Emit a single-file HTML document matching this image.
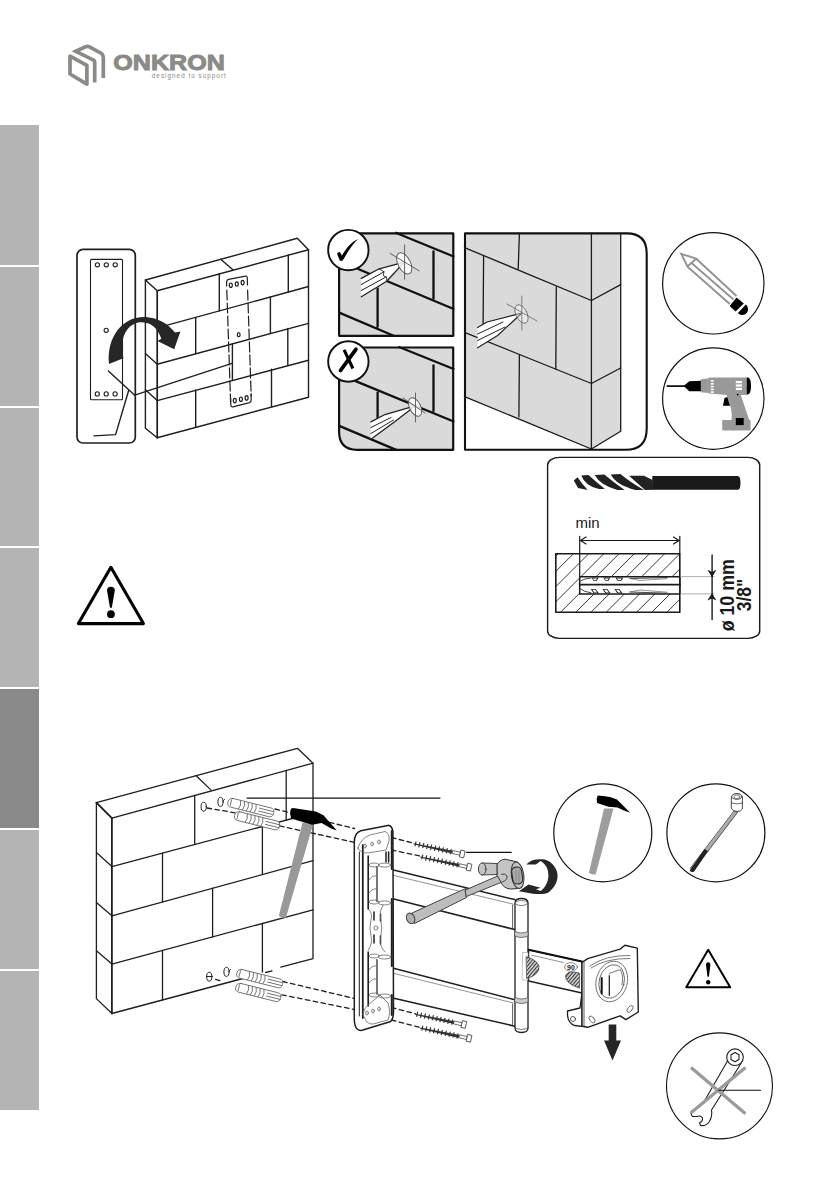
<!DOCTYPE html>
<html><head><meta charset="utf-8">
<style>
html,body{margin:0;padding:0;background:#fff;}
body{width:839px;height:1191px;overflow:hidden;position:relative;font-family:"Liberation Sans",sans-serif;}
svg{position:absolute;left:0;top:0;}
</style></head>
<body>
<svg width="839" height="1191" viewBox="0 0 839 1191">
<!-- side tabs -->
<g fill="#b3b4b3">
<rect x="0" y="125" width="39" height="140"/>
<rect x="0" y="267" width="39" height="139"/>
<rect x="0" y="408" width="39" height="138"/>
<rect x="0" y="548" width="39" height="139"/>
<rect x="0" y="689" width="39" height="139" fill="#898989"/>
<rect x="0" y="830" width="39" height="139"/>
<rect x="0" y="971" width="39" height="139"/>
</g>
<!-- logo -->
<g fill="none" stroke="#8a8a87" stroke-width="3.7" stroke-linejoin="round">
<path d="M70 56.1 L86.9 65.3 L86.9 84.1 L70 74 Z"/>
<path d="M94.7 82.5 L94.7 62 Q94.7 60.5 93 59.8 L75.8 51.3 L85.5 46.8 Q87.5 45.8 89.5 46.8 L101.5 53.5 Q103.3 54.8 103.3 57.5 L103.3 78" stroke-linejoin="miter" stroke-miterlimit="10"/>
</g>
<text x="113.3" y="69.8" font-family="Liberation Sans" font-weight="bold" font-size="21.5" fill="#8a8a87" stroke="#8a8a87" stroke-width="0.9" textLength="111.5" lengthAdjust="spacingAndGlyphs">ONKRON</text>
<text x="151.8" y="78.3" font-family="Liberation Sans" font-size="6.3" fill="#8a8a87" textLength="74" lengthAdjust="spacing">designed to support</text>

<g id="top" fill="none" stroke="#1f1f1f" stroke-linecap="round" stroke-linejoin="round">
<!-- template card -->
<rect x="77" y="249.3" width="58.3" height="193.7" rx="6" stroke-width="1.7"/>
<rect x="90.5" y="259.4" width="32" height="140.4" rx="1" stroke-width="1.1"/>
<g stroke-width="1.1">
<circle cx="97.4" cy="264.8" r="2.1"/><circle cx="106.3" cy="264.8" r="2.1"/><circle cx="115.2" cy="264.8" r="2.1"/>
<circle cx="97.3" cy="393.9" r="2.1"/><circle cx="106.2" cy="393.9" r="2.1"/><circle cx="115.1" cy="393.9" r="2.1"/>
<circle cx="106.2" cy="330.3" r="2.1"/>
</g>
<!-- wall 1 -->
<g stroke-width="1.4">
<path d="M145.4 280 L297.3 238.3 L308.5 249.7 L157.2 290.8 Z"/>
<path d="M145.4 280 L145.4 428.2 L157.2 437.8 L308.5 397.2 L308.5 249.7"/>
<path d="M157.2 290.8 L157.2 437.8" stroke-width="1.7"/>
<path d="M220.7 259.3 L232.9 269.8"/>
<path d="M157.2 327.9 L308.5 286.5 M157.2 364.2 L308.5 323.4 M157.2 400.6 L308.5 360.3"/>
<path d="M145.4 353.5 L157.2 364.2 M145.4 389.8 L157.2 400.6 M145.4 317 L157.2 327.9"/>
<path d="M219.3 273.8 L219.3 310.9 M288.3 254.9 L288.3 292 M195.7 317.4 L195.7 353.7 M270.4 296.9 L270.4 333.2 M232.4 343.6 L232.4 380 M287.8 328.4 L287.8 364.8 M195.7 390.1 L195.7 427.3 M271.5 369.3 L271.5 406.5"/>
</g>
<!-- dashed template on wall -->
<g stroke-width="1.2">
<path d="M226.6 286 L226.6 282 Q226.6 279.8 228.6 279.4 L245.5 276.2 Q247.3 276 247.3 278 L247.5 285"/>
<path d="M226.8 290 L230.6 402" stroke-dasharray="10 3"/>
<path d="M247.6 290 L251.2 396" stroke-dasharray="10 3"/>
<path d="M230.6 398 L230.8 405 Q231 407.2 233 406.8 L249.5 402.6 Q251.3 402 251.2 400 L251.1 394"/>
<ellipse cx="230.8" cy="285.2" rx="1.5" ry="2.2"/><ellipse cx="236.8" cy="284" rx="1.5" ry="2.2"/><ellipse cx="242.6" cy="282.6" rx="1.5" ry="2.2"/>
<ellipse cx="234.8" cy="400.6" rx="1.5" ry="2.2"/><ellipse cx="240.9" cy="399.2" rx="1.5" ry="2.2"/><ellipse cx="246.6" cy="397.9" rx="1.5" ry="2.2"/>
<ellipse cx="238.7" cy="334.7" rx="1.4" ry="2"/>
</g>
<!-- leader lines -->
<path d="M108.4 371 L134.7 395.2 L232 363.4 M128.8 390 L115.6 434.6 L94 435.9" stroke-width="1.4"/>
<!-- curved arrow -->
<path d="M109 363.9 C106.5 338 121.5 316.9 144 316.9 C153 317.1 161 320 167.5 325 C171 328 173.5 330.5 175 332.5 L180.4 331.5 L174.2 349.2 L157.5 340.9 L161.3 338.8 C159 332 155 326.7 150 324 C147 322.7 144 322.4 141.5 322.3 C130 322.3 122.3 333 122.3 346 L123.3 358.3 Z" fill="#262626" stroke="none"/>
</g>
<g id="top2" fill="none" stroke-linecap="round" stroke-linejoin="round">
<!-- check panel -->
<rect x="339.1" y="233.4" width="114.2" height="102.4" fill="#d9dad9" stroke="#111" stroke-width="2.2"/>
<g stroke="#111" stroke-width="2.3" stroke-linecap="butt">
<path d="M395.1 232.5 L454.3 256.7 M357.5 268.7 L454.3 309.3 M433.5 250.5 L433.5 299.3 M377.6 287.6 L377.6 327.6 M339.2 312.6 L394.2 336"/>
</g>
<!-- pencil 1 -->
<g stroke-width="1" stroke="#222">
<path d="M361.3 278.4 L379.2 268.8 L404.2 262.1 L386.7 281.3 L361.3 296.7 Z" fill="#fff" stroke="none"/>
<path d="M361.3 278.4 L379.2 268.8 L404.2 262.1 L386.7 281.3 L361.3 296.7" stroke-width="1.3"/>
<path d="M361.3 284.5 L384 271.8 M361.3 290.5 L386 277" stroke-width="1"/>
<path d="M379.2 268.8 L384 271.8 L383.2 275.5 L386.7 277.3 L386.7 281.3" stroke-width="0.9"/>
</g>
<g stroke="#555" stroke-width="0.9">
<ellipse cx="404.2" cy="263.4" rx="6.2" ry="11.5" transform="rotate(-27 404.2 263.4)" fill="rgba(255,255,255,0.85)"/>
<path d="M404.6 245 L404.6 279.2 M390 253.3 L419.2 270.9"/>
</g>
<circle cx="348.35" cy="250.05" r="20.2" fill="#fff" stroke="#111" stroke-width="1.9"/>
<path d="M337.2 254 C337.5 252.5 339 251.8 340 252.2 L341.9 255.4 C346 249 351 242 358.3 239.1 C354 242.5 349 250 343.2 259.8 C342.2 261.3 340.5 261.5 339.6 260.3 Z" fill="#000" stroke="none"/>

<!-- X panel -->
<path d="M339.1 347.5 L453.2 347.5 L453.2 449.8 L357.1 449.8 Q339.1 449.8 339.1 431.8 Z" fill="#d9dad9" stroke="#111" stroke-width="2.2"/>
<g stroke="#111" stroke-width="2.3" stroke-linecap="butt">
<path d="M398.4 346.7 L454.3 369.2 M355 380.9 L454.3 421.8 M433.5 364.5 L433.5 411.8 M377.6 391.7 L377.6 418.4 M339.2 425.9 L396.8 450.1"/>
</g>
<g stroke-width="1" stroke="#222">
<path d="M370.9 421.8 L385 414.5 L415.1 405.9 L395 421.5 L370.9 439.3 Z" fill="#fff" stroke="none"/>
<path d="M370.9 421.8 L385 414.5 L415.1 405.9 L395 421.5 L370.9 439.3" stroke-width="1.3"/>
<path d="M370.9 427.5 L391 417.5 M370.9 433.5 L393.5 420" stroke-width="1"/>
</g>
<g stroke="#555" stroke-width="0.9">
<ellipse cx="415.1" cy="407" rx="5.5" ry="10" transform="rotate(-27 415.1 407)" fill="rgba(255,255,255,0.85)"/>
<path d="M415.5 393 L415.5 422 M403 398 L425 413"/>
</g>
<circle cx="348.35" cy="361.5" r="20.2" fill="#fff" stroke="#111" stroke-width="1.9"/>
<path d="M344.1 349.9 L352.9 368.5" stroke="#000" stroke-width="3.1" stroke-linecap="butt"/>
<path d="M355.9 349.3 L340.5 370.5" stroke="#000" stroke-width="3.8" stroke-linecap="round"/>

<!-- big panel -->
<path d="M465 233.4 L620.7 233.4 L620.7 431.2 L591.4 449.7 L465 396.6 Z" fill="#d9dad9" stroke="none"/>
<path d="M465 233.4 L626.6 233.4 Q646.7 233.4 646.7 253.5 L646.7 428.7 Q646.7 449.8 625.6 449.8 L465 449.8 Z" fill="none" stroke="#111" stroke-width="2.1"/>
<g stroke="#1a1a1a" stroke-width="1.3">
<path d="M464.5 396.6 L591.4 449 L620.7 431.2 L620.7 233.3 M591.4 233.3 L591.4 449"/>
<path d="M464.5 247.6 L591.4 300.5 L620.7 284.6 M464.5 332.3 L591.4 383.5 L620.7 368"/>
<path d="M519.4 233.3 L518.2 269.1 M483.6 255.5 L483.1 325.1 M556.3 287 L555.8 369.2 M519.4 354.9 L518.9 416.9"/>
</g>
<g stroke="#222" stroke-width="1">
<path d="M477.6 327.5 L487 322 L521.7 313.2 L497.6 335.5 L477.6 347.8 Z" fill="#fff" stroke="none"/>
<path d="M477.6 327.5 L487 322 L521.7 313.2 L497.6 335.5 L477.6 347.8" stroke-width="1.2"/>
<path d="M477.6 334 L503 322 M477.6 340.5 L505 327"/>
</g>
<g stroke="#666" stroke-width="0.8">
<ellipse cx="521.5" cy="314" rx="5.5" ry="10" transform="rotate(-27 521.5 314)" fill="rgba(255,255,255,0.4)"/>
<path d="M521.8 296 L521.8 330 M507 304 L537 321"/>
</g>
</g>
<g id="top3" fill="none" stroke-linecap="round" stroke-linejoin="round">
<!-- pencil circle -->
<circle cx="713.3" cy="283.3" r="50.7" fill="#fff" stroke="#111" stroke-width="1.2"/>
<g stroke="#939393" stroke-width="1.9" stroke-linecap="butt" fill="none">
<path d="M696.5 259 L736.5 296 M691.5 263 L733.5 299.5 M687.6 266.8 L729.8 304"/>
<path d="M681.2 253.8 L696.2 258.6 L687.5 266.5 Z" stroke-linejoin="miter"/>
</g>
<path d="M736.6 297.6 L743.8 303.4 L735.6 311.4 L729.6 306 Z" fill="#000"/>
<path d="M745.8 304.6 C748.8 307.2 748.6 311.4 746.2 313.6 C743.8 315.8 740.2 315.4 737.9 313 Z" fill="#000"/>
<!-- drill circle -->
<circle cx="713.3" cy="398.6" r="50.7" fill="#fff" stroke="#111" stroke-width="1.2"/>
<path d="M667.2 386.1 L685 386.1" stroke="#111" stroke-width="1.6" stroke-dasharray="1 0.6"/>
<path d="M683.6 385.9 L689.3 381.2 L701 380.8 Q703.2 381.5 703.2 385.9 Q703.2 390.5 701 391.3 L689.3 391.3 Z" fill="#000"/>
<rect x="701" y="383.7" width="2.8" height="4.5" fill="#000"/>
<path d="M700.8 379.3 L707.9 378.5 L707.9 392.9 L700.8 392.2 Z" fill="#999"/>
<path d="M707.9 379 Q707.9 377.5 709.5 377.5 L746.6 377.5 L746.6 395.1 L727 395.1 L709.5 393.5 Q707.9 393.3 707.9 391.5 Z" fill="#999"/>
<path d="M746.6 377.5 L748 377.5 Q751 378 751 386 Q751 393.5 748 394.4 L746.6 394.4 Z" fill="#000"/>
<g fill="#fff">
<rect x="710.8" y="380.2" width="2.9" height="1.6"/><rect x="710.8" y="383" width="2.9" height="1.6"/><rect x="710.8" y="385.8" width="2.9" height="1.6"/><rect x="710.8" y="388.6" width="2.9" height="1.6"/><rect x="710.8" y="391.3" width="2.9" height="1.6"/>
<rect x="735.8" y="381" width="6.2" height="2.2"/><rect x="735.8" y="384.4" width="6.2" height="2.2"/><rect x="735.8" y="387.8" width="6.2" height="2.2"/>
</g>
<path d="M726.5 395.1 L740.8 395.1 L749.2 420.1 L731.5 420.1 Q733 410 726.5 395.1 Z" fill="#999"/>
<path d="M723 405.8 L724.5 398 L727.3 397 L730.1 405.8 Z" fill="#000"/>
<rect x="722.2" y="420.1" width="28.4" height="10.3" rx="0.8" fill="#999"/>
<rect x="735.8" y="418" width="7.9" height="7.1" fill="#000"/>
<circle cx="737.7" cy="394.6" r="0.9" fill="#000"/>

<!-- drill bit box -->
<rect x="547.6" y="457.4" width="212.1" height="181" rx="12" ry="7.5" fill="#fff" stroke="#1a1a1a" stroke-width="1.4"/>
<path d="M652.4 476 L738 476 Q740.5 476.5 740.5 483 Q740.5 489.5 738 489.7 L652 489.7 Z" fill="#1a1a1a"/>
<g fill="#222">
<path d="M573.8 480.5 L577.5 477.3 Q582 484 587.7 490.1 L578 488 Z"/>
<path d="M581.3 475.5 L588.5 475.1 Q596 482 604.9 489.1 L599 489.1 Q585 486 581.3 475.5 Z"/>
<path d="M594.7 475.1 L604.3 474.6 Q613 482 624.7 490.1 L617.2 490.1 Q600 485 594.7 475.1 Z"/>
<path d="M610.8 474.6 L620.4 474 Q630 482 644 490.1 L635.4 490.1 Q616 485 610.8 474.6 Z"/>
<path d="M629 475.8 L644 475.8 L652.6 480 L652.6 475.8 L652.6 489.7 L645 490.1 Q636 482 629 475.8 Z"/>
</g>
<text x="575.4" y="528.3" font-size="15" fill="#1a1a1a" font-family="Liberation Sans">min</text>
<g stroke="#1a1a1a" stroke-width="1.2" fill="none">
<path d="M579.7 536.3 L579.7 593.9 M679.8 536.3 L679.8 553.6"/>
<path d="M580.5 540.5 L679 540.5 M586 537 L580.5 540.5 L586 544 M673.5 537 L679 540.5 L673.5 544"/>
</g>
<defs>
<clipPath id="hatch"><rect x="555.8" y="553.8" width="124" height="58.4"/></clipPath>
</defs>
<g clip-path="url(#hatch)" stroke="#222" stroke-width="0.9">
<path d="M558.2 553.8 L499.8 612.2 M573.4 553.8 L515.0 612.2 M588.6 553.8 L530.2 612.2 M603.8 553.8 L545.4 612.2 M619.0 553.8 L560.6 612.2 M634.2 553.8 L575.8 612.2 M649.4 553.8 L591.0 612.2 M664.6 553.8 L606.2 612.2 M679.8 553.8 L621.4 612.2 M695.0 553.8 L636.6 612.2 M710.2 553.8 L651.8 612.2 M725.4 553.8 L667.0 612.2 M740.6 553.8 L682.2 612.2"/>
</g>
<rect x="555.8" y="553.8" width="124" height="58.4" fill="none" stroke="#1a1a1a" stroke-width="1.6"/>
<rect x="579.7" y="576.7" width="100.1" height="17.2" fill="#fff" stroke="#1a1a1a" stroke-width="1.5"/>
<path d="M579.7 584.7 L679.8 584.7" stroke="#1a1a1a" stroke-width="1.8"/>
<g stroke="#333" stroke-width="0.9" fill="none">
<path d="M580.5 581 Q584 578.5 591 578 M630 578.5 L667 577.6 M580.5 589 Q584 592 591 592.8 M630 592 L667 593.2"/>
<path d="M630 578.5 L640 580.5 L667 578.6 M630 592 L640 590 L667 592.2" stroke="#666" stroke-width="0.7"/>
</g>
<g fill="#222">
<path d="M591.5 577.5 L598.5 577.5 L597 580.8 L593.6 580.8 Z M603.2 577.5 L610.2 577.5 L608.7 580.8 L605.3 580.8 Z M615.4 577.5 L623.2 577.5 L621.5 580.8 L617.5 580.8 Z"/>
<path d="M590.8 589 L595.5 589 L599 593.2 L593.5 593.2 Z M602.5 589 L607.2 589 L610.7 593.2 L605.2 593.2 Z M614.5 589 L619.2 589 L622.7 593.2 L617.2 593.2 Z"/>
</g>
<g fill="#fff">
<path d="M592.8 578.4 L597 578.4 L596.3 580 L594 580 Z M604.5 578.4 L608.7 578.4 L608 580 L605.7 580 Z M616.8 578.4 L621.5 578.4 L620.8 580 L618 580 Z"/>
<path d="M592.3 589.8 L595 589.8 L597.2 592.5 L594.3 592.5 Z M604 589.8 L606.7 589.8 L608.9 592.5 L606 592.5 Z M616 589.8 L618.7 589.8 L620.9 592.5 L618 592.5 Z"/>
</g>
<g stroke="#999" stroke-width="0.8">
<path d="M680.3 576.6 L714 576.6 M680.3 593.9 L714 593.9"/>
</g>
<path d="M712.1 555 L712.1 619.5" stroke="#1a1a1a" stroke-width="1.4" fill="none"/>
<path d="M707.3 569.8 L712.1 572 L716.4 569.8 L712.1 577.2 Z M707.3 600.6 L712.1 598.4 L716.4 600.6 L712.1 593.3 Z" fill="#1a1a1a"/>
<text transform="translate(734.2 631.3) rotate(-90)" font-size="19.5" font-weight="bold" fill="#1a1a1a" font-family="Liberation Sans" textLength="72" lengthAdjust="spacingAndGlyphs">ø 10 mm</text>
<text transform="translate(750.9 611.3) rotate(-90)" font-size="19.5" font-weight="bold" fill="#1a1a1a" font-family="Liberation Sans" textLength="32.5" lengthAdjust="spacingAndGlyphs">3/8"</text>

<!-- warning triangle big -->
<path d="M110.9 567.3 L143.4 623.6 L78.4 623.6 Z" fill="none" stroke="#000" stroke-width="3.1" stroke-linejoin="round"/>
<path d="M107 590.5 Q107 586.8 110.9 586.8 Q114.8 586.8 114.8 590.5 L111.8 607.8 L110 607.8 Z" fill="#000"/>
<circle cx="110.9" cy="614.2" r="3.9" fill="#000"/>
</g>
<g id="bot" fill="none" stroke-linecap="round" stroke-linejoin="round">
<!-- wall 2 -->
<g stroke="#1f1f1f" stroke-width="1.3" fill="none">
<path d="M96.4 802.6 L297.5 748.3 L313 763.2 L111.9 818.1 Z"/>
<path d="M96.4 802.6 L96.4 998.6 L111.9 1013.5 L250.3 976.5 M265.6 972.5 L272 970.8 M280.8 967.2 L313 958.6 L313 763.2"/>
<path d="M111.9 818.1 L111.9 1013.5" stroke-width="1.8"/><path d="M96.4 802.6 L111.9 818.1" stroke-width="1.7"/>
<path d="M196.2 775.8 L211.1 790.1"/>
<path d="M111.9 866.6 L313 813 M111.9 915.8 L313 860.7 M111.9 964.1 L313 909.8"/>
<path d="M96.4 852.6 L111.9 866.6 M96.4 902.4 L111.9 915.8 M96.4 950.7 L111.9 964.1"/>
<path d="M194.7 795.5 L194.7 844.5 M286.2 770.5 L286.2 820.1 M162.5 853.1 L162.5 901.9 M262.4 826.4 L262.4 874.6 M212.6 888.2 L212.6 936.9 M162.5 950.4 L162.5 999.8 M262.4 923.5 L262.4 972"/>
</g>
<!-- holes -->
<g stroke="#222" stroke-width="1" fill="#fff">
<ellipse cx="203.7" cy="806.7" rx="2.6" ry="4.5"/>
<ellipse cx="220.5" cy="801.9" rx="2.6" ry="4.5"/>
<ellipse cx="209.3" cy="976.7" rx="2.6" ry="4.5"/>
<ellipse cx="226.5" cy="971.9" rx="2.6" ry="4.5"/>
<path d="M206.5 976.5 L212.3 976.5 M223 801 L224.5 799.5 M229 971 L230.5 969.5" fill="none"/>
</g>
<!-- dashed lines -->
<g stroke="#1f1f1f" stroke-width="1.3" fill="none" stroke-dasharray="4.5 3.5">
<path d="M207 808 L236 813"/>
<path d="M275 809 L354.5 828.5 M279.6 825.8 L354.5 842.5"/>
<path d="M391.5 837.5 L413.6 843.2 M391.5 850 L420 856"/>
<path d="M215.5 979.4 L222 981.2"/>
<path d="M282.7 981.5 L354.5 998.5 M281.8 994.8 L354.5 1009.5"/>
<path d="M391.5 1007.5 L415.2 1013.7 M391.5 1020 L420.4 1027.5"/>
</g>
<!-- anchors -->
<g id="anc" stroke="#555" stroke-width="0.75" fill="#fff">
<g transform="translate(229.1 797.5) rotate(14)">
<rect x="0" y="0" width="47" height="9" rx="4"/>
<path d="M3 1.5 L3 7.5 M12 0.5 Q14 4.5 12 8.5 M16 0.5 Q18 4.5 16 8.5 M20 0.5 Q22 4.5 20 8.5 M24 0.5 Q26 4.5 24 8.5 M28 0.5 Q30 4.5 28 8.5 M32 3 L46 3 M32 6 L46 6" fill="none"/>
</g>
<g transform="translate(235.8 810.8) rotate(14)">
<rect x="0" y="0" width="46" height="9" rx="4"/>
<path d="M3 1.5 L3 7.5 M12 0.5 Q14 4.5 12 8.5 M16 0.5 Q18 4.5 16 8.5 M20 0.5 Q22 4.5 20 8.5 M24 0.5 Q26 4.5 24 8.5 M28 0.5 Q30 4.5 28 8.5 M32 3 L46 3 M32 6 L46 6" fill="none"/>
</g>
<g transform="translate(238 968.5) rotate(14)">
<rect x="0" y="0" width="47" height="9" rx="4"/>
<path d="M3 1.5 L3 7.5 M12 0.5 Q14 4.5 12 8.5 M16 0.5 Q18 4.5 16 8.5 M20 0.5 Q22 4.5 20 8.5 M24 0.5 Q26 4.5 24 8.5 M28 0.5 Q30 4.5 28 8.5 M32 3 L46 3 M32 6 L46 6" fill="none"/>
</g>
<g transform="translate(237 982.5) rotate(14)">
<rect x="0" y="0" width="46" height="9" rx="4"/>
<path d="M3 1.5 L3 7.5 M12 0.5 Q14 4.5 12 8.5 M16 0.5 Q18 4.5 16 8.5 M20 0.5 Q22 4.5 20 8.5 M24 0.5 Q26 4.5 24 8.5 M28 0.5 Q30 4.5 28 8.5 M32 3 L46 3 M32 6 L46 6" fill="none"/>
</g>
</g>
<!-- leader line -->
<path d="M247 798.1 L440 798.1" stroke="#111" stroke-width="1.1"/>
<!-- hammer on wall -->
<path d="M302.5 822.5 L313 824.5 L286 917.5 Q282 918.5 278.8 916 Z" fill="#999"/>
<path d="M293 808 L315.9 811.5 L323.5 815.3 L336.8 830.5 L331.1 828.6 L321.6 822.9 L312 824.8 L291.1 818.5 Q289.5 814 290.5 810 Q291 808 293 808 Z" fill="#000"/>
<!-- arms -->
<path d="M383.2 869.1 L514.9 899.5 L514.9 929.6 L383.2 895.8 Z" fill="#fff" stroke="none"/>
<path d="M383.2 967.4 L514.9 999.8 L514.9 1026.2 L383.2 995.5 Z" fill="#fff" stroke="none"/>
<g stroke="#1f1f1f" stroke-width="1.5" fill="none">
<path d="M392.5 869.7 L514.9 899.6 M391.8 898.6 L514.9 929.6"/>
<path d="M392.5 968 L514.9 999.8 M391.8 997.8 L514.9 1026.2"/>
</g>
<g stroke="#777" stroke-width="0.8" fill="none">
<path d="M383.5 870.5 L392.5 869.7 M384.3 873.2 L513.4 904.2 M384.3 895.8 L391.8 898.6"/>
<path d="M383.5 968.5 L392.5 968 M384.3 971 L513.4 1003 M384.3 995.5 L391.8 997.8"/>
</g>
<path d="M383.2 870.7 L383.2 895.8 M383.2 968.5 L383.2 994.5" stroke="#333" stroke-width="1"/>
<path d="M512.6 905 L512.6 928.4 M512.6 1004 L512.6 1024.5" stroke="#333" stroke-width="0.8"/>
<path d="M392.3 898.5 L392.3 967.4" stroke="#111" stroke-width="1.8"/>
<!-- hinge post -->
<path d="M515 903 Q515 898.5 521.5 898.5 Q528 898.5 528 903 L528 1028 Q528 1032.5 521.5 1032.5 Q515 1032.5 515 1028 Z" fill="#fff" stroke="#1f1f1f" stroke-width="1.3"/>
<g stroke="#555" stroke-width="0.8" fill="none">
<ellipse cx="521.5" cy="903" rx="6.2" ry="2.5"/>
<path d="M515 931.5 Q521.5 934.5 528 931.5 L528 936 Q521.5 939 515 936 Z M515 997.5 Q521.5 1000.5 528 997.5 L528 1002 Q521.5 1005 515 1002 Z" fill="#ccc"/><path d="M515 1028 Q521.5 1031 528 1028"/>
</g>
<!-- arm 2 -->
<defs><pattern id="hp" width="2.6" height="2.6" patternUnits="userSpaceOnUse" patternTransform="rotate(40)"><rect width="2.6" height="2.6" fill="#ddd"/><rect width="1.1" height="2.6" fill="#333"/></pattern></defs>
<path d="M528.6 949.8 L581.9 961.6 L581.9 993 L528.6 981 Z" fill="#fff" stroke="#1f1f1f" stroke-width="1.3"/>
<path d="M528.6 949.8 L581.9 961.6" stroke="#111" stroke-width="2"/>
<path d="M531.5 955.2 L563.5 962.5" stroke="#777" stroke-width="0.8"/>
<path d="M523 952.5 L528 952.5 L528 980 L522.5 980 Z" fill="#fff" stroke="#999" stroke-width="0.6"/>
<path d="M526.5 956.8 Q537 960 539 966 Q540 975 527 978.3 Z" fill="url(#hp)" stroke="#333" stroke-width="0.7"/>
<path d="M579.2 973 Q568 970 565.5 975.5 Q565 983.5 579.2 988 Z" fill="url(#hp)" stroke="#333" stroke-width="0.7"/>
<ellipse cx="571" cy="967" rx="6.4" ry="4.3" fill="#fff" stroke="#555" stroke-width="0.7"/>
<text x="571" y="969.6" font-size="7" font-weight="bold" fill="#222" font-family="Liberation Sans" text-anchor="middle">90</text>
<!-- TV plate -->
<path d="M567.5 1011 L580 1008 L582 993 L582 1026.3 L574.5 1025.5 Q568 1023 567.5 1015 Z" fill="#fff" stroke="#1f1f1f" stroke-width="1.3"/>
<circle cx="573" cy="1019" r="2.5" fill="none" stroke="#333" stroke-width="0.8"/>
<path d="M582 962.4 L587.7 958.6 L620.1 949.1 L624.9 945.3 L637.3 948.1 L638.3 1012 L625.9 1019.6 L620.1 1015.8 L587.7 1027.3 L582 1026.3 Z" fill="#fff" stroke="#1f1f1f" stroke-width="1.4"/>
<path d="M584 962.5 L584 1026" stroke="#333" stroke-width="0.8"/>
<g stroke="#555" stroke-width="0.8" fill="none">
<ellipse cx="611.7" cy="981.5" rx="15.5" ry="20.5" transform="rotate(15 611.7 981.5)" stroke-dasharray="2 0.8"/>
<ellipse cx="611.7" cy="981.5" rx="12.5" ry="17" transform="rotate(15 611.7 981.5)"/>
<path d="M590 966 Q605 955 630 955.5 M591 968 Q606 958 630 958.5"/>
<path d="M609.3 973.4 L620.3 969.6 Q624 976 622 985"/>
<ellipse cx="592" cy="1019.5" rx="2.2" ry="4" transform="rotate(-40 592 1019.5)"/>
<ellipse cx="630" cy="1009" rx="2.2" ry="4" transform="rotate(40 630 1009)"/>
</g>
<path d="M601.7 978 L601.7 993.4" stroke="#111" stroke-width="2"/><path d="M609.3 975.7 L609.3 995.3" stroke="#111" stroke-width="1.2"/>
<!-- down arrow -->
<path d="M608.7 1024.4 L616.3 1024.4 L616.3 1040.6 L621 1040.6 L612.5 1060.6 L604 1040.6 L608.7 1040.6 Z" fill="#262626"/>
<!-- wall plate -->
<path d="M354.3 842 Q354.3 833 360.7 830.7 L387.9 825.4 Q391.5 825 392.9 831 L393.5 1011 Q393.5 1020 390 1021.8 L362 1030.3 Q355 1031.5 354.3 1020 Z" fill="#fff" stroke="#1f1f1f" stroke-width="1.5"/>
<g stroke="#1f1f1f" fill="none">
<path d="M359.3 852 L359.3 1016" stroke-width="1"/>
<path d="M362.8 845 L362.8 1018" stroke-width="1.8"/>
<path d="M368.2 856 L368.2 909 M368.2 952 L368.2 1006" stroke-width="1.6"/>
<path d="M377 866.4 L377 901.6 M377 959.5 L377 994.2" stroke-width="1.2"/>
<path d="M391.8 831 L391.8 869 M391.8 899 L391.8 966 M391.8 995 L391.8 1015" stroke-width="2"/>
<path d="M374 912 L374 920 M374 935 L374 943 M380.5 914 L380.5 921 M380.5 936 L380.5 944 M386 852 L386 862 M388.6 852 L388.6 862" stroke-width="1.5"/>
</g>
<g stroke="#666" stroke-width="0.8" fill="none">
<ellipse cx="384.6" cy="865.1" rx="6.3" ry="2"/><ellipse cx="384.6" cy="902.9" rx="6.3" ry="2"/>
<ellipse cx="384.6" cy="957" rx="6.3" ry="2"/><ellipse cx="384.6" cy="996" rx="6.3" ry="2"/>
<ellipse cx="374" cy="865" rx="5" ry="2"/><ellipse cx="374" cy="902" rx="5" ry="2"/><ellipse cx="374" cy="956" rx="5" ry="2"/><ellipse cx="374" cy="995" rx="5" ry="2"/>
<path d="M369 880 Q372 875 377 876 M369 893 Q372 888 377 889 M369 970 Q372 965 377 966 M369 983 Q372 978 377 979"/>
<path d="M368.3 909 Q373 913 371 920 Q369 928 371 936 Q373 943 368.3 950"/>
<path d="M383 905 Q379 911 380.5 918 Q383 928 380.5 938 Q379 946 385 952"/>
<circle cx="375.8" cy="928" r="2"/>
<path d="M358 848 Q361 838 370 835 L385 831.5 Q390 833 389 841 L386 850 L368 853 Q360 853 358 848 Z"/>
<ellipse cx="365" cy="846" rx="1.3" ry="2"/><ellipse cx="372" cy="844" rx="1.3" ry="2"/><ellipse cx="379" cy="842" rx="1.3" ry="2"/>
<path d="M363 1014 Q366 1025 373 1024 L388 1020 Q391 1013 388 1003 L380 995 L368 1005 Q364 1008 363 1014 Z"/>
<ellipse cx="367" cy="1013" rx="1.3" ry="2"/><ellipse cx="373" cy="1011" rx="1.3" ry="2"/><ellipse cx="379" cy="1009" rx="1.3" ry="2"/>
</g>
<!-- screws -->
<g id="screws">
<g transform="translate(413.6 843.2) rotate(12.5)">
<path d="M0 0 L40 -1.2 L40 1.8 L0 1.2 Z" fill="#333"/>
<path d="M2 -1.8 L2 2.2 M6 -2 L6 2.4 M10 -2 L10 2.4 M14 -2 L14 2.4 M18 -2 L18 2.4 M22 -2 L22 2.4 M26 -2 L26 2.4 M30 -2 L30 2.4 M34 -2 L34 2.4 M38 -2 L38 2.4" stroke="#333" stroke-width="1.2"/>
<rect x="40" y="-1.3" width="8" height="3" fill="#fff" stroke="#444" stroke-width="0.7"/>
<rect x="48" y="-3.5" width="4" height="7" fill="#fff" stroke="#444" stroke-width="0.8"/>
</g>
<g transform="translate(420.4 856.4) rotate(12.5)">
<path d="M0 0 L40 -1.2 L40 1.8 L0 1.2 Z" fill="#333"/>
<path d="M2 -1.8 L2 2.2 M6 -2 L6 2.4 M10 -2 L10 2.4 M14 -2 L14 2.4 M18 -2 L18 2.4 M22 -2 L22 2.4 M26 -2 L26 2.4 M30 -2 L30 2.4 M34 -2 L34 2.4 M38 -2 L38 2.4" stroke="#333" stroke-width="1.2"/>
<rect x="40" y="-1.3" width="8" height="3" fill="#fff" stroke="#444" stroke-width="0.7"/>
<rect x="48" y="-3.5" width="4" height="7" fill="#fff" stroke="#444" stroke-width="0.8"/>
</g>
<g transform="translate(415.2 1013.7) rotate(12.5)">
<path d="M0 0 L40 -1.2 L40 1.8 L0 1.2 Z" fill="#333"/>
<path d="M2 -1.8 L2 2.2 M6 -2 L6 2.4 M10 -2 L10 2.4 M14 -2 L14 2.4 M18 -2 L18 2.4 M22 -2 L22 2.4 M26 -2 L26 2.4 M30 -2 L30 2.4 M34 -2 L34 2.4 M38 -2 L38 2.4" stroke="#333" stroke-width="1.2"/>
<rect x="40" y="-1.3" width="8" height="3" fill="#fff" stroke="#444" stroke-width="0.7"/>
<rect x="48" y="-3.5" width="4" height="7" fill="#fff" stroke="#444" stroke-width="0.8"/>
</g>
<g transform="translate(420.4 1027.5) rotate(12.5)">
<path d="M0 0 L40 -1.2 L40 1.8 L0 1.2 Z" fill="#333"/>
<path d="M2 -1.8 L2 2.2 M6 -2 L6 2.4 M10 -2 L10 2.4 M14 -2 L14 2.4 M18 -2 L18 2.4 M22 -2 L22 2.4 M26 -2 L26 2.4 M30 -2 L30 2.4 M34 -2 L34 2.4 M38 -2 L38 2.4" stroke="#333" stroke-width="1.2"/>
<rect x="40" y="-1.3" width="8" height="3" fill="#fff" stroke="#444" stroke-width="0.7"/>
<rect x="48" y="-3.5" width="4" height="7" fill="#fff" stroke="#444" stroke-width="0.8"/>
</g>
</g>
<path d="M466.5 852.4 L511.2 852.4" stroke="#111" stroke-width="1.1"/>
<!-- socket tool -->
<path d="M412 913 L465.5 888.5 L466.5 897.5 L414.5 923.5 Z" fill="#bdbdbd" stroke="#333" stroke-width="0.9"/>
<ellipse cx="410.6" cy="918.3" rx="4" ry="5.5" transform="rotate(-25 410.6 918.3)" fill="#b0b0b0" stroke="#333" stroke-width="0.9"/>
<path d="M465.5 890 L501.5 874.3 L502.6 881.8 L466.5 896.5 Z" fill="#bdbdbd" stroke="#333" stroke-width="0.9"/>
<path d="M482 863 L497.3 863.5 L497.3 874.5 L482 875 Z" fill="#c4c4c4" stroke="#333" stroke-width="0.9"/>
<ellipse cx="482.2" cy="869" rx="3.8" ry="6" fill="#c4c4c4" stroke="#333" stroke-width="0.9"/>
<path d="M497.3 864 Q500 859.5 505 859.2 L517.6 862 L517.6 888.6 L510 889 Q503 888 501 882 L497.3 876 Z" fill="#c4c4c4" stroke="#333" stroke-width="1"/>
<path d="M501.5 874.3 Q505 873 507 876 Q508 880 502.6 881.8" fill="#c4c4c4" stroke="#333" stroke-width="0.9"/>
<ellipse cx="517.6" cy="875.3" rx="6.2" ry="13.3" transform="rotate(-8 517.6 875.3)" fill="#c4c4c4" stroke="#333" stroke-width="1"/>
<rect x="512.2" y="867" width="10" height="17" rx="4.5" transform="rotate(-8 517.2 875.5)" fill="#aaa" stroke="#222" stroke-width="1.1"/>
<path d="M516 870 L516 882 M519 870 L519 882" stroke="#777" stroke-width="0.6"/>
<!-- rotation arrow -->
<path d="M526.3 864.5 C529 862 532 860 534.7 859.7 C538 859 545 858.8 548.4 860.9 C553 863.5 557.6 869 557.6 875.8 C557.6 882 554 888.5 548.4 892.5 C545 894.5 538 894.3 532.9 893.7 L518.9 891.3 L528.4 884.5 L540.6 887.8 L535.9 889.2 L540.6 891 C545 888 548.4 882 548.4 875.8 C548.4 870 547 865 540.6 860.9 L535.9 864.5 Z" fill="#262626"/>
<!-- hammer circle -->
<circle cx="602.8" cy="832.8" r="49" fill="#fff" stroke="#111" stroke-width="1.2"/>
<path d="M604 808.4 L613.5 808.4 L595.7 874.2 Q592 875 588.9 872.8 Z" fill="#9d9d9d"/>
<path d="M597.6 795.5 L603 796 L610 797 L617 799.5 L630.2 812.8 L624 810.5 L617.5 807.5 L608.5 806.8 L597.1 803 Q596 799 597.6 795.5 Z" fill="#000"/>
<!-- wrench circle -->
<circle cx="715.9" cy="832.8" r="49" fill="#fff" stroke="#111" stroke-width="1.2"/>
<path d="M734.5 811 L737.5 812.5 L694 869.5 Q691.5 870 690.5 868.5 Z" fill="#aaa" stroke="#333" stroke-width="0.8"/>
<path d="M704.5 849 L708 851 L694 871.8 Q691 872.8 689.8 870.5 Z" fill="#222"/>
<path d="M731.5 797 Q733 793.5 737 793.5 Q741.5 793.8 742.4 797 L742.4 809 Q741 811.5 737 811.5 Q732.5 811.3 731.4 808.5 Z" fill="#fff" stroke="#333" stroke-width="0.9"/>
<ellipse cx="736.9" cy="796.5" rx="5.2" ry="2.8" fill="#fff" stroke="#333" stroke-width="0.9"/>
<ellipse cx="736.9" cy="796.8" rx="3" ry="1.7" fill="none" stroke="#555" stroke-width="0.7"/>
<path d="M731.5 803 Q737 805 742.4 803" stroke="#444" stroke-width="0.8" fill="none"/>
<!-- small warning -->
<path d="M708.2 949.8 L730.2 987.3 L686.2 987.3 Z" fill="none" stroke="#000" stroke-width="2" stroke-linejoin="round"/>
<path d="M706 965 Q706 962.3 708.2 962.3 Q710.4 962.3 710.4 965 L708.9 976.8 L707.5 976.8 Z" fill="#000"/>
<circle cx="708.2" cy="982.2" r="2.2" fill="#000"/>
<!-- crossed wrench circle -->
<circle cx="719.5" cy="1085.9" r="53" fill="#fff" stroke="#111" stroke-width="1.1"/>
<g fill="#fff" stroke="#1f1f1f" stroke-width="1.1">
<path d="M727.5 1061 L705 1100 Q702 1106 697 1108 L692.5 1110.5 Q689.5 1113 692.5 1116.5 L697 1116.5 Q700.5 1115 702.5 1118 Q703 1121 699.5 1123 L700.5 1125.5 Q706 1126.5 709.5 1121.5 Q712.5 1116 711.5 1110 L741 1063.5 Z"/>
<circle cx="735" cy="1057.2" r="8.3"/>
<path d="M735 1052.5 L739 1054.8 L739 1059.4 L735 1061.7 L731 1059.4 L731 1054.8 Z"/>
</g>
<path d="M691 1067.6 L745.5 1113.7 M691 1112.8 L745.5 1067.6" stroke="#9a9b9a" stroke-width="3.3" stroke-linecap="butt"/>
<path d="M718.7 1090.3 L760.6 1090.3" stroke="#111" stroke-width="1.1"/>
</g>
</svg>
</body></html>
